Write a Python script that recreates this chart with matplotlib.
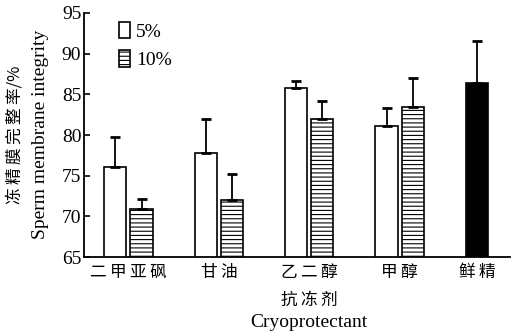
import matplotlib
matplotlib.use("Agg")
from matplotlib import pyplot as plt
from matplotlib.patches import Patch
import numpy as np

groups = ["二甲亚砜", "甘油", "乙二醇", "甲醇", "鲜精"]
mean_5 = [76.1, 77.8, 85.8, 81.1]
err_5 = [3.7, 4.2, 0.9, 2.2]
mean_10 = [70.9, 72.0, 82.0, 83.5]
err_10 = [1.2, 3.2, 2.2, 3.5]
fresh_mean = 86.4
fresh_err = 5.2

serif = "Liberation Serif"
cjk = ["Noto Sans CJK SC", "DejaVu Sans"]
plt.rcParams["hatch.linewidth"] = 0.8


def spaced(s):
    # loose letter spacing like the original
    return "\u2009".join(s)


fig = plt.figure(figsize=(5.13, 3.33), dpi=100)
ax = fig.add_axes([0.164, 0.228, 0.830, 0.733])

x = np.arange(4)
w = 0.245
off = 0.145
ekw = dict(ecolor="black", elinewidth=1.3, capsize=3.5, capthick=2)
ax.bar(x - off, mean_5, w, color="white", edgecolor="black", lw=1.2,
       yerr=[np.zeros(4), err_5], error_kw=ekw, zorder=2)
ax.bar(x + off, mean_10, w, color="white", edgecolor="black", lw=1.2, hatch="----",
       yerr=[np.zeros(4), err_10], error_kw=ekw, zorder=2)
ax.bar([4 - off], [fresh_mean], w, color="black", edgecolor="black", lw=1.2,
       yerr=[[0], [fresh_err]], error_kw=ekw, zorder=2)

ax.set_ylim(65, 95)
ax.set_xlim(-0.49, 4.22)
ax.set_yticks(np.arange(65, 96, 5))
ax.tick_params(axis="y", direction="in", length=4, width=1.2, labelsize=14, pad=2)
for lab in ax.get_yticklabels():
    lab.set_family(serif)
ax.set_xticks(list(x) + [4 - off])
ax.set_xticklabels([spaced(g) for g in groups], family=cjk, fontsize=12)
ax.tick_params(axis="x", length=0, pad=5)
for side in ["top", "right"]:
    ax.spines[side].set_visible(False)
ax.spines["left"].set_linewidth(1.3)
ax.spines["bottom"].set_linewidth(1.3)

handles = [Patch(facecolor="white", edgecolor="black", lw=1.2, label="5%"),
           Patch(facecolor="white", edgecolor="black", lw=1.2, hatch="----", label="10%")]
leg = ax.legend(handles=handles, loc="upper left", bbox_to_anchor=(0.04, 1.035),
                frameon=False, handlelength=0.6, handleheight=0.9, handletextpad=0.3,
                labelspacing=0.5, prop={"family": serif, "size": 14})

fig.text(0.030, 0.595, spaced("冻精膜完整率") + "/%", rotation=90, ha="center", va="center",
         family=cjk, fontsize=12)
fig.text(0.078, 0.595, "Sperm membrane integrity", rotation=90, ha="center", va="center",
         family=serif, fontsize=14)
fig.text(0.603, 0.098, spaced("抗冻剂"), ha="center", va="center", family=cjk, fontsize=12)
fig.text(0.603, 0.033, "Cryoprotectant", ha="center", va="center", family=serif, fontsize=14)

fig.savefig("out.png", dpi=100)
